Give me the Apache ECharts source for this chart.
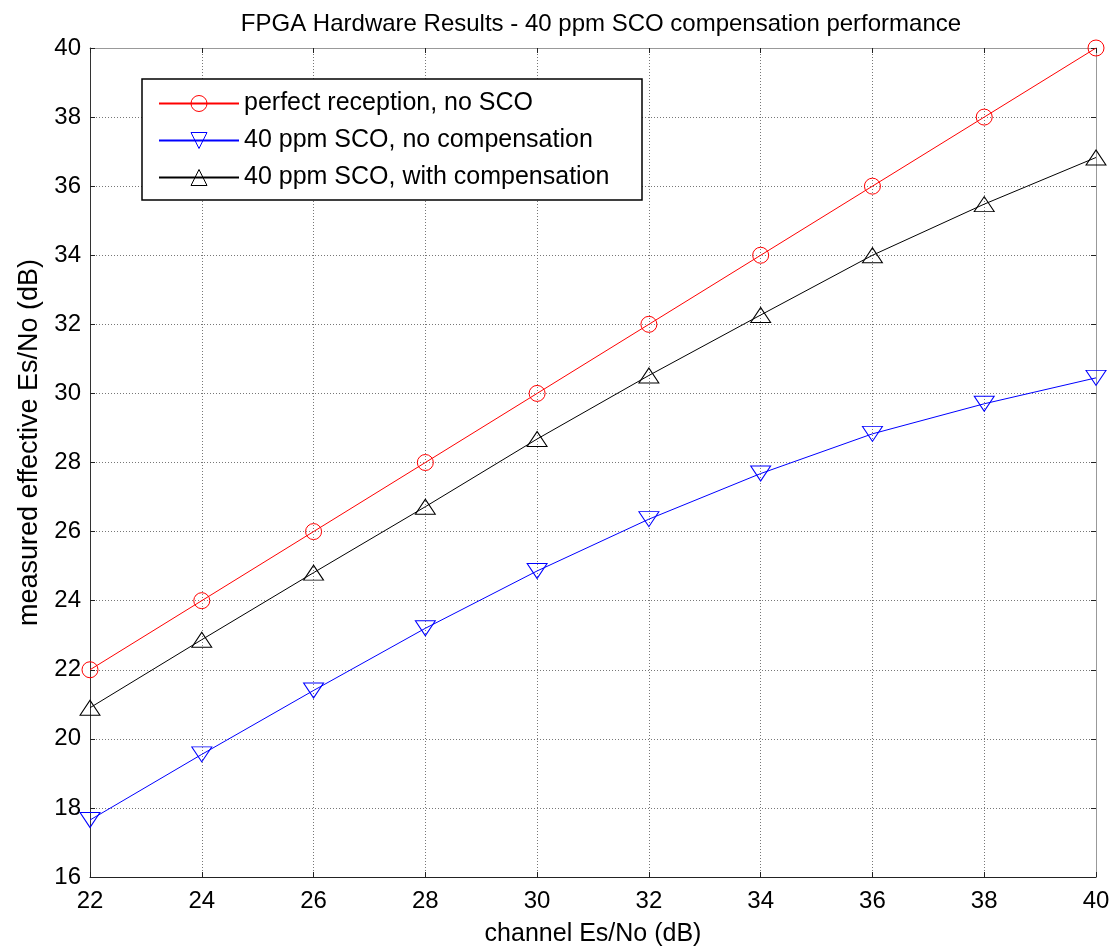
<!DOCTYPE html>
<html>
<head>
<meta charset="utf-8">
<script src="https://cdn.jsdelivr.net/npm/echarts@6/dist/echarts.min.js"></script>
<style>html,body{margin:0;padding:0;background:#fff;}#c{width:1110px;height:950px;}</style>
</head>
<body>
<div id="c"></div>
<script>
const channelEsNo = [22, 24, 26, 28, 30, 32, 34, 36, 38, 40];
const perfect = [22, 24, 26, 28, 30, 32, 34, 36, 38, 40];
const noComp = [17.65, 19.55, 21.4, 23.2, 24.86, 26.36, 27.68, 28.83, 29.7, 30.45];
const withComp = [20.9, 22.87, 24.81, 26.72, 28.68, 30.52, 32.27, 34.0, 35.48, 36.83];
const seriesNames = ['perfect reception, no SCO', '40 ppm SCO, no compensation', '40 ppm SCO, with compensation'];

const FONT = '"Liberation Sans", Arial, Helvetica, sans-serif';
const pairs = a => channelEsNo.map((x, i) => [x, a[i]]);

const chart = echarts.init(document.getElementById('c'), null, {renderer: 'canvas'});
const gridLine = {show: true, lineStyle: {color: '#777', type: [1, 2], width: 1}};
chart.setOption({
  backgroundColor: '#fff',
  animation: false,
  title: {
    text: 'FPGA Hardware Results - 40 ppm SCO compensation performance',
    left: 596, top: 7, textAlign: 'center',
    textStyle: {fontFamily: FONT, fontSize: 24, fontWeight: 'normal', color: '#000'}
  },
  grid: {left: 90, right: 14, top: 48, bottom: 73, containLabel: false, outerBoundsMode: 'none'},
  xAxis: [{
    type: 'value', min: 22, max: 40, interval: 2,
    name: 'channel Es/No (dB)', nameLocation: 'middle', nameGap: 45,
    nameTextStyle: {fontFamily: FONT, fontSize: 25, color: '#000'},
    axisLine: {show: true, onZero: false, lineStyle: {color: '#222', width: 1}},
    axisTick: {show: true, inside: true, length: 5, lineStyle: {color: '#222'}},
    axisLabel: {fontFamily: FONT, fontSize: 24, color: '#000', margin: 12},
    splitLine: gridLine
  }, {
    type: 'value', min: 22, max: 40, interval: 2, position: 'top',
    axisLine: {show: true, onZero: false, lineStyle: {color: '#999', width: 1}},
    axisTick: {show: true, inside: true, length: 5, lineStyle: {color: '#222'}},
    axisLabel: {show: false}, splitLine: {show: false}
  }],
  yAxis: [{
    type: 'value', min: 16, max: 40, interval: 2,
    name: 'measured effective Es/No (dB)', nameLocation: 'middle', nameGap: 46,
    nameTextStyle: {fontFamily: FONT, fontSize: 27, color: '#000', padding: [0, 0, 0, 40]},
    axisLine: {show: true, onZero: false, lineStyle: {color: '#333', width: 1}},
    axisTick: {show: true, inside: true, length: 5, lineStyle: {color: '#222'}},
    axisLabel: {fontFamily: FONT, fontSize: 24, color: '#000', margin: 9},
    splitLine: gridLine
  }, {
    type: 'value', min: 16, max: 40, interval: 2, position: 'right',
    axisLine: {show: true, onZero: false, lineStyle: {color: '#999', width: 1}},
    axisTick: {show: true, inside: true, length: 5, lineStyle: {color: '#222'}},
    axisLabel: {show: false}, splitLine: {show: false}
  }],
  legend: {
    orient: 'vertical', left: 158, top: 91, z: 20,
    itemWidth: 80, itemHeight: 20, itemGap: 12, itemTextGap: 7,
    padding: 0,
    textStyle: {fontFamily: FONT, fontSize: 25, color: '#000'},
    itemStyle: {borderWidth: 1},
    data: seriesNames
  },
  graphic: [{
    type: 'rect', z: 15, shape: {x: 142, y: 79, width: 500, height: 121},
    style: {fill: '#fff', stroke: '#000', lineWidth: 1.5}
  }],
  series: [{
    name: seriesNames[0], type: 'line', data: pairs(perfect),
    symbol: 'circle', symbolSize: 16,
    lineStyle: {color: '#ff0000', width: 1},
    itemStyle: {color: 'rgba(0,0,0,0)', borderColor: '#ff0000', borderWidth: 1}
  }, {
    name: seriesNames[1], type: 'line', data: pairs(noComp),
    symbol: 'triangle', symbolSize: [20, 15], symbolRotate: 180,
    lineStyle: {color: '#0000ff', width: 1},
    itemStyle: {color: 'rgba(0,0,0,0)', borderColor: '#0000ff', borderWidth: 1}
  }, {
    name: seriesNames[2], type: 'line', data: pairs(withComp),
    symbol: 'triangle', symbolSize: [20, 15],
    lineStyle: {color: '#000000', width: 1},
    itemStyle: {color: 'rgba(0,0,0,0)', borderColor: '#000000', borderWidth: 1}
  }]
});
</script>
</body>
</html>
